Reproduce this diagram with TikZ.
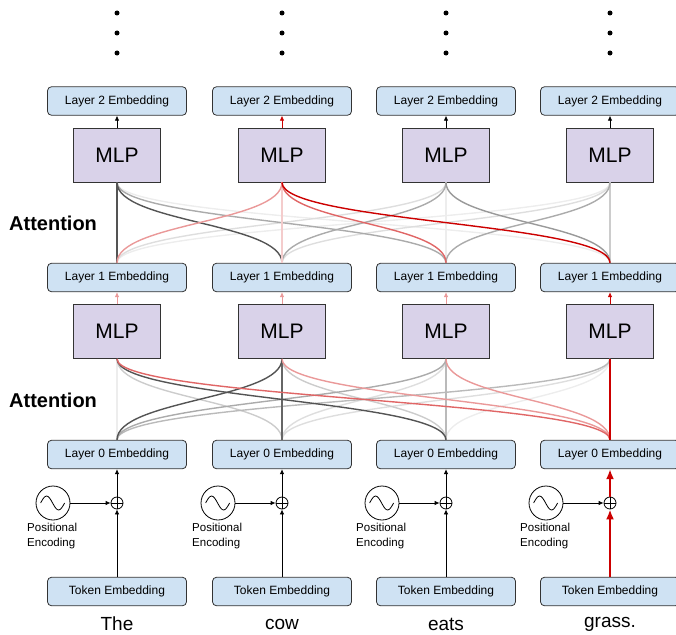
\documentclass[tikz,border=0pt]{standalone}
\usepackage{fontspec}
\setmainfont{Liberation Sans}
\usetikzlibrary{arrows.meta}
\definecolor{embfill}{HTML}{CFE2F3}
\definecolor{mlpfill}{HTML}{D9D2E9}
\definecolor{attred}{HTML}{CC0000}
\definecolor{attsalmon}{HTML}{E06666}
\definecolor{attpink}{HTML}{EA9999}
\definecolor{attpale}{HTML}{F4CCCC}
\begin{document}
\begin{tikzpicture}
	[x=1pt,y=-1pt,
	emb/.style={draw=black!80,fill=embfill,rounded corners=4pt,line width=0.8pt,minimum width=139pt,minimum height=28.5pt,inner sep=0pt,font=\fontsize{12}{14}\selectfont},
	mlp/.style={draw=black!80,fill=mlpfill,line width=0.8pt,minimum width=87pt,minimum height=54pt,inner sep=0pt,font=\fontsize{21}{24}\selectfont},
	word/.style={font=\fontsize{19}{22}\selectfont},
	pe/.style={circle,draw,line width=0.8pt,minimum size=34pt,inner sep=0pt},
	sum/.style={circle,draw,line width=0.8pt,minimum size=12pt,inner sep=0pt,
		path picture={\draw (path picture bounding box.north) -- (path picture bounding box.south)
			(path picture bounding box.west) -- (path picture bounding box.east);}},
	petext/.style={align=left,anchor=west,inner sep=0pt,font=\fontsize{11.5}{15.5}\selectfont},
	dot/.style={circle,fill,minimum size=5pt,inner sep=0pt},
	arr/.style={-{Latex[length=5pt,width=4.5pt]},line width=0.8pt},
	hot/.style={-{Latex[length=10pt,width=8pt]},line width=2pt,draw=attred},
	att/.style={line width=1.4pt}]
	\useasboundingbox (0,0) rectangle (676,634);
	% dots
	\node[dot] (d1a) at (117,13) {};
	\node[dot] (d1b) at (117,33) {};
	\node[dot] (d1c) at (117,53) {};
	\node[dot] (d2a) at (282,13) {};
	\node[dot] (d2b) at (282,33) {};
	\node[dot] (d2c) at (282,53) {};
	\node[dot] (d3a) at (446,13) {};
	\node[dot] (d3b) at (446,33) {};
	\node[dot] (d3c) at (446,53) {};
	\node[dot] (d4a) at (610,13) {};
	\node[dot] (d4b) at (610,33) {};
	\node[dot] (d4c) at (610,53) {};
	% layer 2
	\node[emb] (emb21) at (117,101) {Layer 2 Embedding};
	\node[emb] (emb22) at (282,101) {Layer 2 Embedding};
	\node[emb] (emb23) at (446,101) {Layer 2 Embedding};
	\node[emb] (emb24) at (610,101) {Layer 2 Embedding};
	\node[mlp] (mlpB1) at (117,155) {MLP};
	\node[mlp] (mlpB2) at (282,155) {MLP};
	\node[mlp] (mlpB3) at (446,155) {MLP};
	\node[mlp] (mlpB4) at (610,155) {MLP};
	% layer 1
	\node[emb] (emb11) at (117,277.5) {Layer 1 Embedding};
	\node[emb] (emb12) at (282,277.5) {Layer 1 Embedding};
	\node[emb] (emb13) at (446,277.5) {Layer 1 Embedding};
	\node[emb] (emb14) at (610,277.5) {Layer 1 Embedding};
	\node[mlp] (mlpA1) at (117,331.5) {MLP};
	\node[mlp] (mlpA2) at (282,331.5) {MLP};
	\node[mlp] (mlpA3) at (446,331.5) {MLP};
	\node[mlp] (mlpA4) at (610,331.5) {MLP};
	% layer 0
	\node[emb] (emb01) at (117,454.5) {Layer 0 Embedding};
	\node[emb] (emb02) at (282,454.5) {Layer 0 Embedding};
	\node[emb] (emb03) at (446,454.5) {Layer 0 Embedding};
	\node[emb] (emb04) at (610,454.5) {Layer 0 Embedding};
	\node[sum] (sum1) at (117,503) {};
	\node[sum] (sum2) at (282,503) {};
	\node[sum] (sum3) at (446,503) {};
	\node[sum] (sum4) at (610,503) {};
	\node[pe] (pe1) at (53,503) {};
	\node[pe] (pe2) at (218,503) {};
	\node[pe] (pe3) at (382,503) {};
	\node[pe] (pe4) at (546,503) {};
	\node[petext] (pet1) at (27,536) {Positional\\Encoding};
	\node[petext] (pet2) at (192,536) {Positional\\Encoding};
	\node[petext] (pet3) at (356,536) {Positional\\Encoding};
	\node[petext] (pet4) at (520,536) {Positional\\Encoding};
	\node[emb] (tok1) at (117,591.5) {Token Embedding};
	\node[emb] (tok2) at (282,591.5) {Token Embedding};
	\node[emb] (tok3) at (446,591.5) {Token Embedding};
	\node[emb] (tok4) at (610,591.5) {Token Embedding};
	\node[word] (w1) at (117,624) {The};
	\node[word] (w2) at (282,624) {cow};
	\node[word] (w3) at (446,624) {eats};
	\node[word] (w4) at (610,624) {grass.};
	\node[anchor=west,inner sep=0pt,font=\fontsize{20}{24}\selectfont\bfseries] (attB) at (9,223) {Attention};
	\node[anchor=west,inner sep=0pt,font=\fontsize{20}{24}\selectfont\bfseries] (attA) at (9,400) {Attention};
	% waves
	\draw[line width=0.8pt] (pe1.west) ++(5,0) sin ++(6,-7) cos ++(6,7) sin ++(6,7) cos ++(6,-7);
	\draw[line width=0.8pt] (pe2.west) ++(5,0) sin ++(6,-7) cos ++(6,7) sin ++(6,7) cos ++(6,-7);
	\draw[line width=0.8pt] (pe3.west) ++(5,0) sin ++(6,-7) cos ++(6,7) sin ++(6,7) cos ++(6,-7);
	\draw[line width=0.8pt] (pe4.west) ++(5,0) sin ++(6,-7) cos ++(6,7) sin ++(6,7) cos ++(6,-7);
	% input arrows
	\draw[arr] (pe1) -- (sum1);
	\draw[arr] (pe2) -- (sum2);
	\draw[arr] (pe3) -- (sum3);
	\draw[arr] (pe4) -- (sum4);
	\draw[arr] (tok1) -- (sum1);
	\draw[arr] (tok2) -- (sum2);
	\draw[arr] (tok3) -- (sum3);
	\draw[hot] (tok4) -- (sum4);
	\draw[arr] (sum1) -- (emb01);
	\draw[arr] (sum2) -- (emb02);
	\draw[arr] (sum3) -- (emb03);
	\draw[hot] (sum4) -- (emb04);
	% mlp outputs
	\draw[arr,draw=attpink] (mlpA1) -- (emb11);
	\draw[arr,draw=attpink] (mlpA2) -- (emb12);
	\draw[arr,draw=attpink] (mlpA3) -- (emb13);
	\draw[arr,draw=attred] (mlpA4) -- (emb14);
	\draw[arr] (mlpB1) -- (emb21);
	\draw[arr,draw=attred] (mlpB2) -- (emb22);
	\draw[arr] (mlpB3) -- (emb23);
	\draw[arr] (mlpB4) -- (emb24);
	% lower attention
	\draw[att,black!7] (mlpA1.south) -- (emb01.north);
	\draw[att,black!7] (mlpA4.south) .. controls +(0,40) and +(0,-40) .. (emb03.north);
	\draw[att,black!13] (mlpA4.south) .. controls +(0,40) and +(0,-40) .. (emb02.north);
	\draw[att,black!13] (mlpA3.south) .. controls +(0,40) and +(0,-40) .. (emb02.north);
	\draw[att,black!20] (mlpA1.south) .. controls +(0,40) and +(0,-40) .. (emb02.north);
	\draw[att,black!20] (mlpA2.south) .. controls +(0,40) and +(0,-40) .. (emb03.north);
	\draw[att,black!27] (mlpA3.south) -- (emb03.north);
	\draw[att,black!27] (mlpA4.south) .. controls +(0,40) and +(0,-40) .. (emb01.north);
	\draw[att,black!33] (mlpA3.south) .. controls +(0,40) and +(0,-40) .. (emb01.north);
	\draw[att,black!60] (mlpA2.south) -- (emb02.north);
	\draw[att,black!67] (mlpA2.south) .. controls +(0,40) and +(0,-40) .. (emb01.north);
	\draw[att,black!67] (mlpA1.south) .. controls +(0,40) and +(0,-40) .. (emb03.north);
	\draw[att,attpink] (mlpA3.south) .. controls +(0,40) and +(0,-40) .. (emb04.north);
	\draw[att,attpink] (mlpA2.south) .. controls +(0,40) and +(0,-40) .. (emb04.north);
	\draw[att,attsalmon] (mlpA1.south) .. controls +(0,40) and +(0,-40) .. (emb04.north);
	\draw[att,attred,line width=2pt] (mlpA4.south) -- (emb04.north);
	% upper attention
	\draw[att,black!7] (mlpB1.south) .. controls +(0,40) and +(0,-40) .. (emb14.north);
	\draw[att,black!7] (mlpB3.south) -- (emb13.north);
	\draw[att,black!7] (mlpB4.south) .. controls +(0,40) and +(0,-40) .. (emb11.north);
	\draw[att,black!13] (mlpB3.south) .. controls +(0,40) and +(0,-40) .. (emb11.north);
	\draw[att,black!13] (mlpB4.south) .. controls +(0,40) and +(0,-40) .. (emb12.north);
	\draw[att,black!20] (mlpB4.south) -- (emb14.north);
	\draw[att,black!33] (mlpB1.south) .. controls +(0,40) and +(0,-40) .. (emb13.north);
	\draw[att,black!33] (mlpB3.south) .. controls +(0,40) and +(0,-40) .. (emb12.north);
	\draw[att,black!33] (mlpB4.south) .. controls +(0,40) and +(0,-40) .. (emb13.north);
	\draw[att,black!40] (mlpB3.south) .. controls +(0,40) and +(0,-40) .. (emb14.north);
	\draw[att,black!67] (mlpB1.south) -- (emb11.north);
	\draw[att,black!67] (mlpB1.south) .. controls +(0,40) and +(0,-40) .. (emb12.north);
	\draw[att,attpale] (mlpB2.south) -- (emb12.north);
	\draw[att,attpink] (mlpB2.south) .. controls +(0,40) and +(0,-40) .. (emb11.north);
	\draw[att,attsalmon] (mlpB2.south) .. controls +(0,40) and +(0,-40) .. (emb13.north);
	\draw[att,attred] (mlpB2.south) .. controls +(0,40) and +(0,-40) .. (emb14.north);
\end{tikzpicture}
\end{document}
